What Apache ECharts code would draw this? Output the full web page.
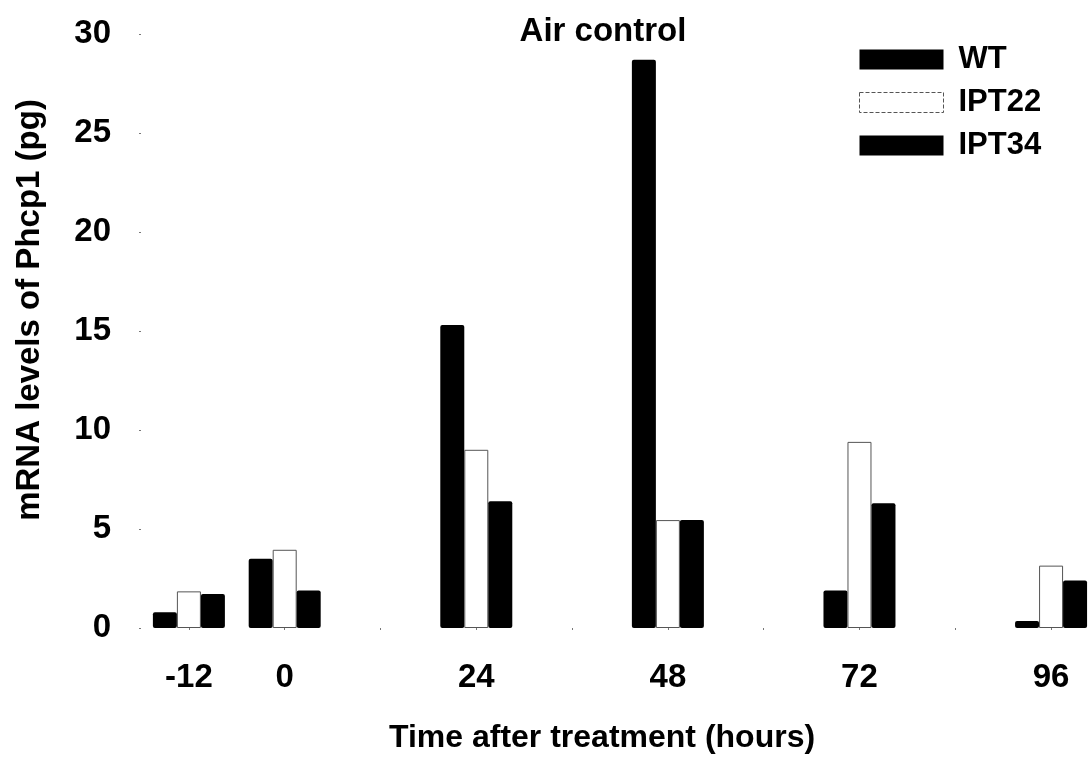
<!DOCTYPE html>
<html>
<head>
<meta charset="utf-8">
<script src="https://cdn.jsdelivr.net/npm/echarts@6/dist/echarts.min.js"></script>
<style>
  html, body { margin: 0; padding: 0; background: #fff; }
  #chart { width: 1090px; height: 759px; }
</style>
</head>
<body>
<div id="chart"></div>
<script>
// Sampling times (hours after treatment)
const hours = [-12, 0, 24, 48, 72, 96];
const tickHours = [-12, 0, 12, 24, 36, 48, 60, 72, 84, 96];
const yTicks = [0, 5, 10, 15, 20, 25, 30];

// Phcp1 mRNA levels (pg)
const wt    = [0.8, 3.5, 15.3, 28.7, 1.9, 0.35];
const ipt22 = [1.85, 3.95, 9.0, 5.45, 9.4, 3.15];
const ipt34 = [1.72, 1.9, 6.4, 5.45, 6.3, 2.4];

const FONT = '"Liberation Sans", Arial, sans-serif';
const pair = vals => hours.map((h, i) => [h, vals[i]]);

const chart = echarts.init(document.getElementById('chart'), null, { renderer: 'canvas' });

const black = { color: '#000', borderRadius: 2 };
const hollow = { color: '#fff', borderColor: '#555', borderWidth: 1 };

chart.setOption({
  animation: false,
  backgroundColor: '#fff',
  textStyle: { fontFamily: FONT, color: '#000' },
  title: {
    text: 'Air control',
    left: 598, top: 10,
    textAlign: 'center',
    textStyle: { fontFamily: FONT, fontSize: 33, fontWeight: 'bold', color: '#000' }
  },
  legend: {
    orient: 'vertical',
    left: 854, top: 39,
    icon: 'rect',
    itemWidth: 84, itemHeight: 20, itemGap: 12,
    textStyle: { fontFamily: FONT, fontSize: 31, fontWeight: 'bold', color: '#000', padding: [0, 0, 0, 10] },
    data: [
      { name: 'WT', itemStyle: { color: '#000' } },
      { name: 'IPT22', itemStyle: { color: '#fff', borderColor: '#555', borderWidth: 1, borderType: 'dashed' } },
      { name: 'IPT34', itemStyle: { color: '#000' } }
    ]
  },
  grid: { left: 141, right: 7, top: 34, bottom: 128 },
  xAxis: {
    type: 'value',
    min: -18, max: 100,
    splitLine: { show: false },
    axisLine: { show: false },
    axisTick: { show: true, length: 2, customValues: tickHours, lineStyle: { color: '#777', width: 1 } },
    axisLabel: {
      customValues: hours,
      margin: 33,
      fontFamily: FONT, fontSize: 33, fontWeight: 'bold', color: '#000'
    },
    name: 'Time after treatment (hours)',
    nameLocation: 'middle',
    nameGap: 94,
    nameTextStyle: { fontFamily: FONT, fontSize: 32, fontWeight: 'bold', color: '#000', padding: [0, 20, 0, 0] }
  },
  yAxis: {
    type: 'value',
    min: 0, max: 30, interval: 5,
    splitLine: { show: false },
    axisLine: { show: false, onZero: false },
    axisTick: { show: true, length: 2, customValues: yTicks, lineStyle: { color: '#777', width: 1 } },
    axisLabel: { margin: 30, fontFamily: FONT, fontSize: 33, fontWeight: 'bold', color: '#000' }
  },
  graphic: [{
    type: 'text',
    x: 30, y: 310,
    rotation: Math.PI / 2,
    style: {
      text: 'mRNA levels of Phcp1 (pg)',
      font: 'bold 33px ' + FONT,
      fill: '#000',
      align: 'center',
      verticalAlign: 'middle'
    }
  }],
  series: [
    { name: 'WT', type: 'bar', data: pair(wt), barWidth: 24, barGap: '0%', clip: false, itemStyle: black },
    { name: 'IPT22', type: 'bar', data: pair(ipt22), barWidth: 24, barGap: '0%', clip: false, itemStyle: hollow },
    { name: 'IPT34', type: 'bar', data: pair(ipt34), barWidth: 24, barGap: '0%', clip: false, itemStyle: black }
  ]
});
</script>
</body>
</html>
